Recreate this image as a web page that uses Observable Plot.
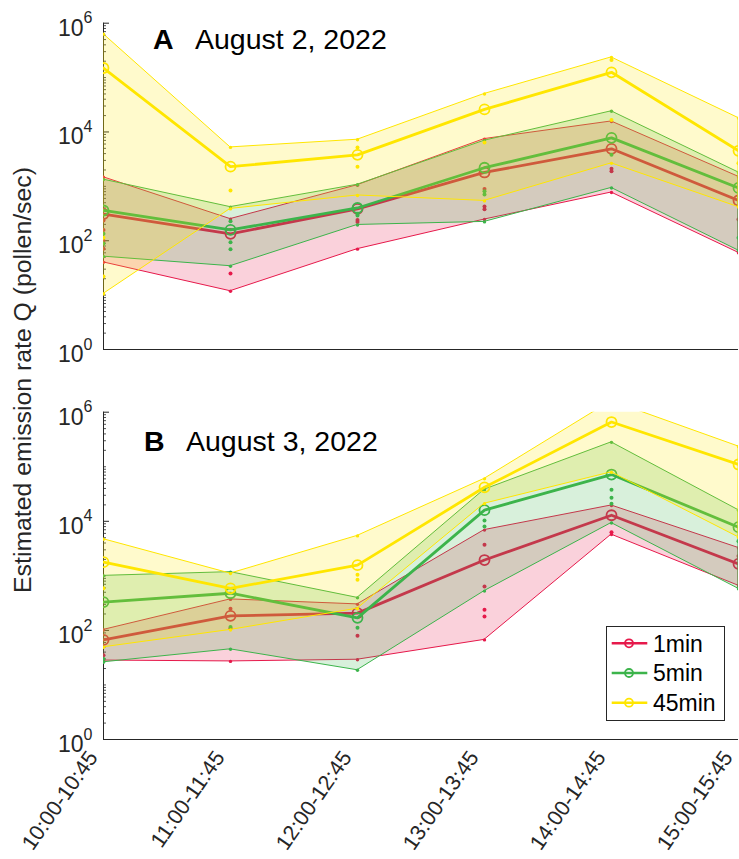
<!DOCTYPE html>
<html>
<head>
<meta charset="utf-8">
<script src="https://cdn.jsdelivr.net/npm/d3@7"></script>
<script src="https://cdn.jsdelivr.net/npm/@observablehq/plot@0.6"></script>
<style>
  body { margin: 0; background: #fff; font-family: "Liberation Sans", Arial, sans-serif; }
  #fig { position: relative; width: 739px; height: 859px; overflow: hidden; }
  #fig > svg { display: block; }
  .ttl { position: absolute; font-size: 28.5px; line-height: 28.5px; color: #000; white-space: nowrap; }
  .ttl b { font-weight: bold; }
  #ylab { position: absolute; width: 600px; left: -277px; top: 368px; height: 24px; line-height: 24px;
          font-size: 24.8px; color: #262626; text-align: center; transform: rotate(-90deg); white-space: nowrap; }
  #legend { position: absolute; left: 606px; top: 626px; }
</style>
</head>
<body>
<div id="fig"></div>
<script>
// Time windows on the x axis
const times = ["10:00-10:45", "11:00-11:45", "12:00-12:45", "13:00-13:45", "14:00-14:45", "15:00-15:45"];
const seriesNames = ["1min", "5min", "45min"];
const seriesColors = ["#e6194b", "#3cb44b", "#ffe600"];
const decades = [0, 1, 2, 3, 4, 5, 6];
const labelledDecades = [0, 2, 4, 6];

// August 2, 2022 — emission rate Q (pollen/sec): min, median, max and individual estimates
const aug2Lo1  = [40, 11.8, 70, 245, 770, 60];
const aug2Med1 = [310, 134, 385, 1800, 4900, 550];
const aug2Hi1  = [1470, 250, 1050, 7400, 15600, 1500];
const aug2Pts1 = [[235, 158, 100, 71], [25], [240, 220], [890, 425, 380], [2100, 1900], [245]];

const aug2Lo5  = [51, 34, 195, 222, 935, 66];
const aug2Med5 = [360, 158, 400, 2200, 7800, 935];
const aug2Hi5  = [1330, 415, 1070, 6900, 24000, 1800];
const aug2Pts5 = [[135, 89], [228, 94, 70], [315, 290], [810, 710], [3800], [113]];

const aug2Lo45  = [10.5, 385, 680, 540, 2650, 415];
const aug2Med45 = [150000, 2300, 3800, 26000, 125000, 4500];
const aug2Hi45  = [630000, 5200, 7200, 50000, 235000, 18000];
const aug2Pts45 = [[113, 22], [840], [5200, 2300], [6400], [210000, 16600], [2650]];

// August 3, 2022
const aug3Lo1  = [28, 27, 29, 67, 5700, 660];
const aug3Med1 = [67, 185, 207, 1950, 12900, 1660];
const aug3Hi1  = [102, 370, 300, 6900, 19500, 3250];
const aug3Pts1 = [[35], [250, 110], [80], [3700, 640, 240, 180], [6300], [2300]];

const aug3Lo5  = [26, 45, 18.6, 525, 9300, 580];
const aug3Med5 = [330, 480, 170, 16000, 72000, 7800];
const aug3Hi5  = [1000, 1170, 395, 38000, 280000, 16000];
const aug3Pts5 = [[30], [115], [112], [10300, 8000], [38000, 27000, 21000], [4300]];

const aug3Lo45  = [49, 102, 250, 21000, 79000, 5100];
const aug3Med45 = [1780, 590, 1570, 42000, 660000, 110000];
const aug3Hi45  = [4700, 1100, 5400, 60000, 1600000, 235000];
const aug3Pts45 = [[590], [], [1050, 850], [], [], []];

const panels = [
  { letter: "A", date: "August 2, 2022",
    series: [[aug2Lo1, aug2Med1, aug2Hi1, aug2Pts1], [aug2Lo5, aug2Med5, aug2Hi5, aug2Pts5], [aug2Lo45, aug2Med45, aug2Hi45, aug2Pts45]] },
  { letter: "B", date: "August 3, 2022",
    series: [[aug3Lo1, aug3Med1, aug3Hi1, aug3Pts1], [aug3Lo5, aug3Med5, aug3Hi5, aug3Pts5], [aug3Lo45, aug3Med45, aug3Hi45, aug3Pts45]] }
];

const W = 739, ML = 103, MR = 1;
const frameW = W - ML - MR;
const axisColor = "#262626";
const majorTicks = labelledDecades.map(e => 10 ** e);
const minorTicks = decades.slice(0, -1).flatMap(e => d3.range(1, 10).map(k => k * 10 ** e))
  .filter(v => !majorTicks.includes(v));

function panelMarks(panel) {
  const marks = [
    Plot.ruleX([times[0]], { stroke: axisColor, strokeWidth: 1 }),
    Plot.ruleY([1], { stroke: axisColor, strokeWidth: 1 }),
    Plot.tickY(majorTicks, { y: d => d, stroke: axisColor, strokeWidth: 1, insetRight: frameW - 6 }),
    Plot.tickY(minorTicks, { y: d => d, stroke: axisColor, strokeWidth: 0.8, insetRight: frameW - 3 }),
    // y tick labels: base and raised exponent
    Plot.text(labelledDecades, { y: e => 10 ** e, text: () => "10", frameAnchor: "left", textAnchor: "end",
      dx: -20, dy: 5, fontSize: 23, fill: axisColor }),
    Plot.text(labelledDecades, { y: e => 10 ** e, text: e => String(e), frameAnchor: "left", textAnchor: "start",
      dx: -20, dy: -5, fontSize: 16, fill: axisColor })
  ];
  panel.series.forEach(([lo, med, hi, pts], s) => {
    const c = seriesColors[s];
    const rows = times.map((t, i) => ({ t, lo: lo[i], med: med[i], hi: hi[i] }));
    const ptRows = times.flatMap((t, i) => pts[i].map(v => ({ t, v })));
    marks.push(
      Plot.areaY(rows, { x: "t", y1: "lo", y2: "hi", fill: c, fillOpacity: 0.2, stroke: c, strokeWidth: 1, clip: true }),
      Plot.dot(rows, { x: "t", y: "lo", r: 1.7, fill: c, clip: true }),
      Plot.dot(rows, { x: "t", y: "hi", r: 1.7, fill: c, clip: true }),
      Plot.line(rows, { x: "t", y: "med", stroke: c, strokeWidth: 2.8, clip: true }),
      Plot.dot(rows, { x: "t", y: "med", r: 5, stroke: c, strokeWidth: 1.8, fill: "none", clip: true }),
      Plot.dot(ptRows, { x: "t", y: "v", r: 2, fill: c, clip: true })
    );
  });
  return marks;
}

function makePanel(panel, { height, marginTop, marginBottom, xLabels }) {
  const marks = panelMarks(panel);
  if (xLabels) {
    marks.push(Plot.text(times, { x: d => d, text: d => d, frameAnchor: "bottom", rotate: -55,
      textAnchor: "end", dx: -5, dy: 18, fontSize: 21.5, fill: axisColor }));
  }
  return Plot.plot({
    width: W, height, marginLeft: ML, marginRight: MR, marginTop, marginBottom,
    style: { fontFamily: "Liberation Sans, Arial, sans-serif", background: "#fff", overflow: "visible" },
    x: { type: "point", domain: times, padding: 0, axis: null },
    y: { type: "log", domain: [1, 1e6], axis: null },
    marks
  });
}

const fig = document.getElementById("fig");
fig.appendChild(makePanel(panels[0], { height: 362, marginTop: 22.7, marginBottom: 13, xLabels: false }));
fig.appendChild(makePanel(panels[1], { height: 497, marginTop: 49.7, marginBottom: 120, xLabels: true }));

// Panel titles
[[panels[0], 153, 195, 24.9], [panels[1], 144, 186, 426.9]].forEach(([p, xl, xd, top]) => {
  const a = document.createElement("div");
  a.className = "ttl"; a.style.left = xl + "px"; a.style.top = top + "px";
  a.innerHTML = "<b>" + p.letter + "</b>";
  const b = document.createElement("div");
  b.className = "ttl"; b.style.left = xd + "px"; b.style.top = top + "px";
  b.textContent = p.date;
  fig.append(a, b);
});

// Shared y label
const yl = document.createElement("div");
yl.id = "ylab";
yl.textContent = "Estimated emission rate Q (pollen/sec)";
fig.appendChild(yl);

// Legend
const leg = d3.create("svg").attr("id", "legend").attr("width", 119).attr("height", 95);
leg.append("rect").attr("x", 0.5).attr("y", 0.5).attr("width", 118).attr("height", 94)
  .attr("fill", "#fff").attr("stroke", axisColor).attr("stroke-width", 1);
seriesNames.forEach((name, i) => {
  const y = 17.3 + i * 29.7;
  leg.append("line").attr("x1", 5.7).attr("x2", 41.3).attr("y1", y).attr("y2", y)
    .attr("stroke", seriesColors[i]).attr("stroke-width", 2.5);
  leg.append("circle").attr("cx", 23).attr("cy", y).attr("r", 4)
    .attr("fill", "none").attr("stroke", seriesColors[i]).attr("stroke-width", 1.8);
  leg.append("text").attr("x", 47).attr("y", y).attr("dy", "0.36em")
    .attr("font-size", 23).attr("fill", "#000").text(name);
});
fig.appendChild(leg.node());
</script>
</body>
</html>
